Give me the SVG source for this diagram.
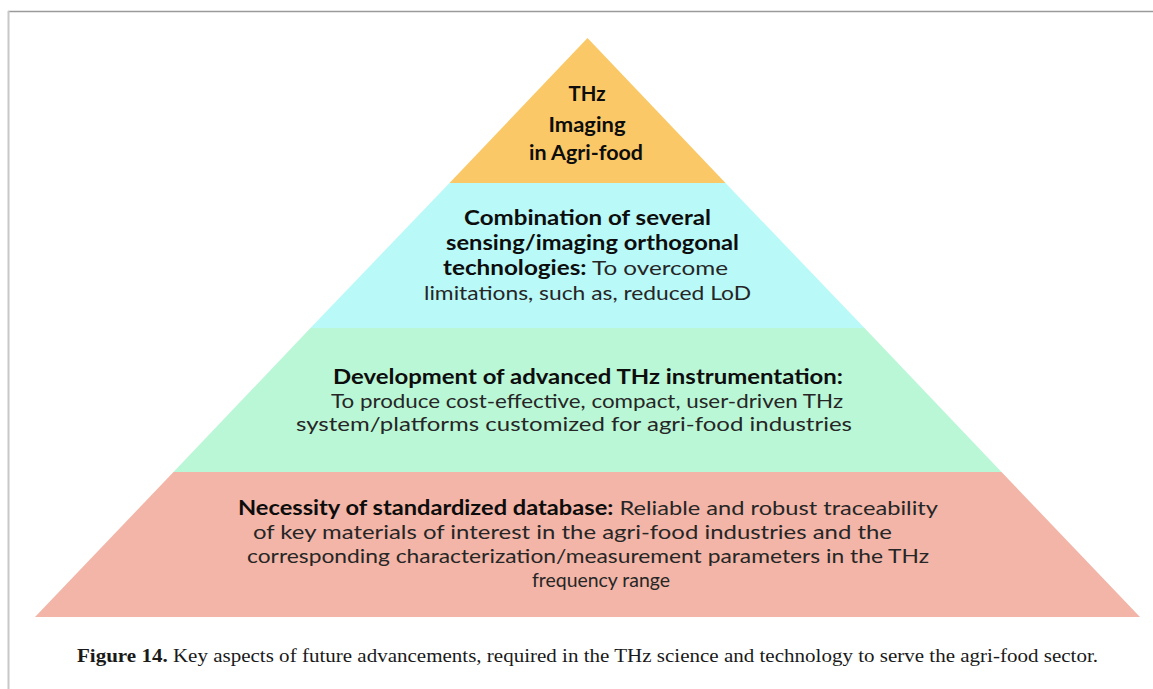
<svg xmlns="http://www.w3.org/2000/svg" width="1153" height="689" viewBox="0 0 1153 689">
  <style>
    .t { font-family: Lato, "Noto Sans", "DejaVu Sans", sans-serif; font-size: 20px; fill: #1a1a1a; text-anchor: middle; }
    .b { font-weight: 700; fill: #0d0d0d; }
    .r { font-weight: 400; fill: #262626; }
    .cap { font-family: "Liberation Serif", "DejaVu Serif", serif; font-size: 18.5px; fill: #1a1a1a; }
  </style>
  <rect x="0" y="0" width="1153" height="689" fill="#ffffff"/>
  <g id="frame">
    <line x1="8" y1="11.5" x2="1153" y2="11.5" stroke="#9a9a9a" stroke-width="1.5"/>
    <line x1="8.5" y1="11" x2="8.5" y2="689" stroke="#c8c8c8" stroke-width="2"/>
  </g>
  <g id="tier-top">
    <polygon points="587.5,38 725.5,183 449.5,183" fill="#fac866"/>
    <text class="t b" x="587" y="101" font-size="19.5" textLength="37" lengthAdjust="spacingAndGlyphs">THz</text>
    <text class="t b" x="587" y="131.5" font-size="19.5" textLength="77" lengthAdjust="spacingAndGlyphs">Imaging</text>
    <text class="t b" x="586" y="160" font-size="19.5" textLength="114" lengthAdjust="spacingAndGlyphs">in Agri-food</text>
  </g>
  <g id="tier-2">
    <polygon points="449.5,183 725.5,183 864.5,328 310.5,328" fill="#b9f9f8"/>
    <text class="t b" x="587.5" y="225" textLength="247" lengthAdjust="spacingAndGlyphs">Combination of several</text>
    <text class="t b" x="592.5" y="250" textLength="293" lengthAdjust="spacingAndGlyphs">sensing/imaging orthogonal</text>
    <text class="t" x="585.5" y="275" textLength="285" lengthAdjust="spacingAndGlyphs"><tspan class="b">technologies:</tspan><tspan class="r"> To overcome</tspan></text>
    <text class="t r" x="587.5" y="300" textLength="327" lengthAdjust="spacingAndGlyphs">limitations, such as, reduced LoD</text>
  </g>
  <g id="tier-3">
    <polygon points="310.5,328 864.5,328 1001.5,472 173.5,472" fill="#baf7d6"/>
    <text class="t b" x="588" y="384" textLength="510" lengthAdjust="spacingAndGlyphs">Development of advanced THz instrumentation:</text>
    <text class="t r" x="587" y="408" textLength="512" lengthAdjust="spacingAndGlyphs">To produce cost-effective, compact, user-driven THz</text>
    <text class="t r" x="574" y="431" textLength="556" lengthAdjust="spacingAndGlyphs">system/platforms customized for agri-food industries</text>
  </g>
  <g id="tier-4">
    <polygon points="173.5,472 1001.5,472 1140,617 35,617" fill="#f2b5a7"/>
    <text class="t" x="588" y="515" textLength="700" lengthAdjust="spacingAndGlyphs"><tspan class="b">Necessity of standardized database:</tspan><tspan class="r"> Reliable and robust traceability</tspan></text>
    <text class="t r" x="572.5" y="539" textLength="639" lengthAdjust="spacingAndGlyphs">of key materials of interest in the agri-food industries and the</text>
    <text class="t r" x="588" y="563" textLength="682" lengthAdjust="spacingAndGlyphs">corresponding characterization/measurement parameters in the THz</text>
    <text class="t r" x="601" y="587" textLength="138" lengthAdjust="spacingAndGlyphs">frequency range</text>
  </g>
  <g id="connectors"/>
  <g id="caption">
    <text class="cap" x="77" y="662" textLength="1021" lengthAdjust="spacingAndGlyphs"><tspan font-weight="700">Figure 14.</tspan> Key aspects of future advancements, required in the THz science and technology to serve the agri-food sector.</text>
  </g>
</svg>
